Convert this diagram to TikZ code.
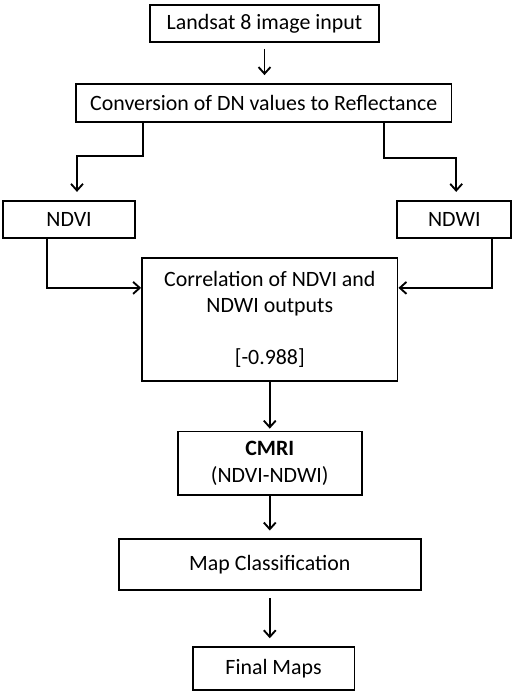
\documentclass[tikz,border=0pt]{standalone}
\usepackage{fontspec}
\setmainfont{Carlito}
\usetikzlibrary{arrows.meta}
\begin{document}
\begin{tikzpicture}[
    box/.style={rectangle,draw,line width=1.4pt,inner sep=0pt,align=center,
                font=\fontsize{16.5}{19.5}\selectfont},
    flow/.style={-{Straight Barb[length=5pt,width=9pt]},line width=1.4pt}]
    \useasboundingbox (0,0) rectangle (13.62,-18.34) ;

    \node[box,minimum width=6.09cm,minimum height=0.98cm] (input) at (7.01,-0.62) {Landsat 8 image input} ;
    \node[box,minimum width=9.95cm,minimum height=1.01cm] (conv) at (6.99,-2.73) {Conversion of DN values to Reflectance} ;
    \node[box,minimum width=3.49cm,minimum height=0.98cm] (ndvi) at (1.83,-5.81) {NDVI} ;
    \node[box,minimum width=3.02cm,minimum height=0.98cm] (ndwi) at (12.04,-5.81) {NDWI} ;
    \node[box,minimum width=6.77cm,minimum height=3.26cm] (corr) at (7.15,-8.46) {Correlation of NDVI and\\NDWI outputs\\[19.5pt]{[-0.988]}} ;
    \node[box,minimum width=4.87cm,minimum height=1.69cm,font=\fontsize{16.5}{20.5}\selectfont] (cmri) at (7.15,-12.28) {\textbf{CMRI}\\(NDVI-NDWI)} ;
    \node[box,minimum width=8.00cm,minimum height=1.35cm] (mapc) at (7.15,-14.97) {Map Classification} ;
    \node[box,minimum width=4.29cm,minimum height=1.14cm] (final) at (7.25,-17.72) {Final Maps} ;

    \draw[flow, shorten <=0.16cm, shorten >=0.21cm] (input.south) -- (input.south |- conv.north) ;
    \draw[flow] ([xshift=-3.20cm]conv.south) -- ++(0,-0.87) -| ([xshift=0.21cm,yshift=0.21cm]ndvi.north) ;
    \draw[flow] ([xshift=3.18cm]conv.south) -- ++(0,-0.93) -| ([xshift=0.05cm,yshift=0.21cm]ndwi.north) ;
    \draw[flow] ([xshift=-0.58cm]ndvi.south) |- ([yshift=0.83cm]corr.west) ;
    \draw[flow] ([xshift=1.00cm]ndwi.south) |- ([yshift=0.83cm]corr.east) ;
    \draw[flow, shorten >=0.05cm] (corr.south) -- (cmri.north) ;
    \draw[flow, shorten >=0.21cm] (cmri.south) -- (mapc.north) ;
    \draw[flow, shorten <=0.18cm, shorten >=0.21cm] (mapc.south) -- (mapc.south |- final.north) ;
\end{tikzpicture}
\end{document}
